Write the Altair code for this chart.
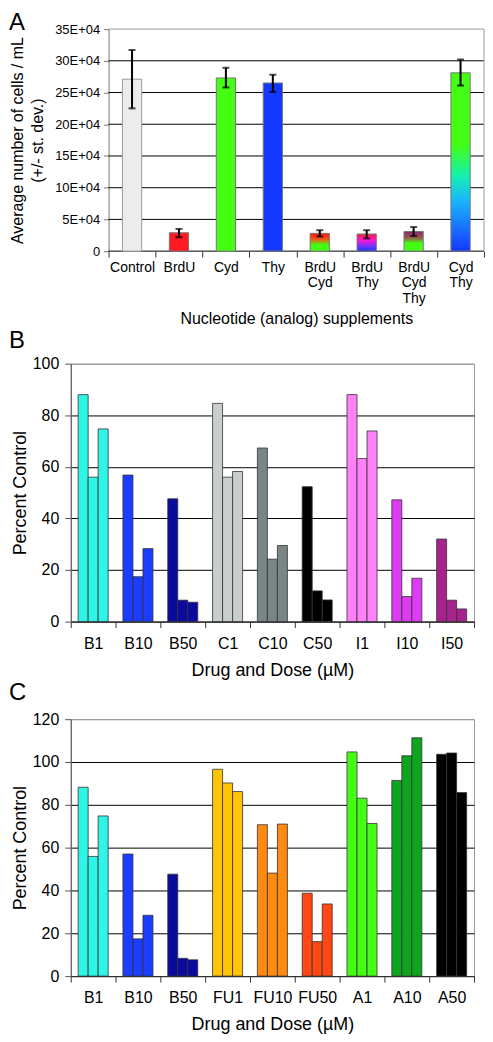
import altair as alt
import pandas as pd

FONT = "Liberation Sans"

# ---------------- Panel A data (cell counts in units of 1E+04 cells/mL) ----------------
a_categories = ["Control", "BrdU", "Cyd", "Thy", "BrdU\nCyd", "BrdU\nThy", "BrdU\nCyd\nThy", "Cyd\nThy"]
a_mean_e4 = [27.1, 2.9, 27.3, 26.5, 2.8, 2.7, 3.1, 28.1]
a_low_e4 = [22.5, 2.2, 25.8, 25.1, 2.3, 2.0, 2.4, 26.1]
a_high_e4 = [31.7, 3.5, 28.9, 27.8, 3.3, 3.3, 3.8, 30.2]
a_ticks = [0, 5, 10, 15, 20, 25, 30, 35]

# ---------------- Panel B data (percent of control, three replicates) ----------------
b_groups = ["B1", "B10", "B50", "C1", "C10", "C50", "I1", "I10", "I50"]
b_rep1 = [88.0, 56.8, 47.6, 84.6, 67.3, 52.3, 88.0, 47.2, 32.0]
b_rep2 = [56.0, 17.4, 8.3, 56.0, 24.2, 11.9, 63.2, 9.7, 8.3]
b_rep3 = [74.7, 28.3, 7.5, 58.2, 29.5, 8.4, 73.9, 16.8, 4.9]
b_ticks = [0, 20, 40, 60, 80, 100]

# ---------------- Panel C data ----------------
c_groups = ["B1", "B10", "B50", "FU1", "FU10", "FU50", "A1", "A10", "A50"]
c_rep1 = [88.2, 57.0, 47.6, 96.6, 70.7, 38.7, 104.7, 91.4, 103.6]
c_rep2 = [55.9, 17.4, 8.3, 90.2, 48.1, 16.1, 83.1, 102.9, 104.2]
c_rep3 = [74.8, 28.4, 7.6, 86.2, 71.0, 33.7, 71.3, 111.3, 85.7]
c_ticks = [0, 20, 40, 60, 80, 100, 120]

replicates = ["r1", "r2", "r3"]

# ---------------- layout constants ----------------
A_W, A_H = 415, 223          # panel A group (shares left origin with B/C)
A_X0 = 38                    # panel A plot area starts this far right of the shared origin
B_W, B_H = 405, 259
C_W, C_H = 405, 258
LETTER_X = -62

# ---------------- styles ----------------
def grad(stops):
    return alt.Gradient(
        gradient="linear", x1=0, y1=0, x2=0, y2=1,
        stops=[alt.GradientStop(offset=o, color=c) for o, c in stops],
    )

a_fills = [
    "#ececec",
    "#ff1a24",
    "#44ff14",
    "#1438ff",
    grad([(0, "#ff1a1a"), (0.3, "#ff4a14"), (0.65, "#44ff14"), (1, "#44ff14")]),
    grad([(0, "#ff1a3a"), (0.35, "#ff14d0"), (0.7, "#7a30ff"), (1, "#1438ff")]),
    grad([(0, "#8a2a70"), (0.3, "#9a5050"), (0.6, "#44ff14"), (1, "#44ff14")]),
    grad([(0, "#44ff14"), (0.4, "#44ff14"), (0.58, "#14f0b0"), (0.72, "#1ab4ff"), (1, "#1438ff")]),
]
a_strokes = ["#9a9a9a", "#777777", "#777777", "#777777", "#777777", "#777777", "#777777", "#777777"]

b_colors = ["#2ef5e6", "#1a3dff", "#0a0a9c", "#c8cdcd", "#7a8585", "#000000", "#ff80f7", "#dd3cf2", "#a8228e"]
c_colors = ["#2ef5e6", "#1a3dff", "#0a0a9c", "#ffc408", "#ff8a10", "#ff4814", "#44ff14", "#0ea51e", "#000000"]


def grid_color(top):
    return {"condition": {"test": f"datum.value == {top}", "value": "#999999"}, "value": "#000000"}


def letter(txt, x, y):
    return alt.Chart(pd.DataFrame({"t": [txt]})).mark_text(
        align="left", baseline="alphabetic", fontSize=24, font=FONT, color="#000"
    ).encode(text="t:N", x=alt.value(x), y=alt.value(y))


# ---------------- Panel A ----------------
dfA = pd.DataFrame({
    "idx": list(range(len(a_categories))),
    "cat": a_categories,
    "mean": a_mean_e4,
    "lo": a_low_e4,
    "hi": a_high_e4,
})
dfGridA = pd.DataFrame({"v": a_ticks})

axis_xa = alt.Axis(
    title="Nucleotide (analog) supplements", labelAngle=0, tickBand="extent",
    labelExpr="split(datum.label, '\\n')", labelLineHeight=16, labelFontSize=14,
    labelPadding=3, tickSize=6, titleFontSize=16, titlePadding=5,
    domain=False, tickColor="#333", grid=False,
)
axis_ya = alt.Axis(
    title=["Average number of cells / mL", "(+/- st. dev.)"], values=a_ticks,
    labelExpr="datum.value == 0 ? '0' : datum.value + 'E+04'",
    labelFontSize=13, labelPadding=4, tickSize=5, titleFontSize=16, titleLineHeight=20,
    titlePadding=9, grid=False, offset=-A_X0,
    domainColor="#777", tickColor="#777",
)
x_a = alt.X("cat:N", scale=alt.Scale(domain=a_categories, range=[A_X0, A_W], paddingInner=0, paddingOuter=0), axis=axis_xa)
y_scale_a = alt.Scale(domain=[0, 35], nice=False)

grid_a = alt.Chart(dfGridA).mark_rule(strokeWidth=1).encode(
    x=alt.value(A_X0), x2=alt.value(A_W),
    y=alt.Y("v:Q", scale=y_scale_a, axis=axis_ya),
    color=alt.condition(alt.datum.v == 35, alt.value("#999999"), alt.value("#000000")),
)
right_a = alt.Chart(pd.DataFrame({"v": [0]})).mark_rule(color="#999999", strokeWidth=1).encode(
    x=alt.value(A_W), y=alt.value(0), y2=alt.value(A_H)
)

a_layers = []
for i, (f, s) in enumerate(zip(a_fills, a_strokes)):
    a_layers.append(
        alt.Chart(dfA).transform_filter(alt.datum.idx == i)
        .mark_bar(width=alt.RelativeBandSize(0.41), fill=f, stroke=s, strokeWidth=1)
        .encode(x=x_a, y=alt.Y("mean:Q", scale=y_scale_a, axis=axis_ya))
    )
err_rule = alt.Chart(dfA).mark_rule(color="#000", strokeWidth=2).encode(
    x=x_a, y=alt.Y("lo:Q", scale=y_scale_a, axis=axis_ya), y2="hi:Q"
)
cap_lo = alt.Chart(dfA).mark_tick(color="#000", size=7, thickness=2).encode(
    x=x_a, y=alt.Y("lo:Q", scale=y_scale_a, axis=axis_ya)
)
cap_hi = alt.Chart(dfA).mark_tick(color="#000", size=7, thickness=2).encode(
    x=x_a, y=alt.Y("hi:Q", scale=y_scale_a, axis=axis_ya)
)
chartA = alt.layer(
    grid_a, right_a, *a_layers, err_rule, cap_lo, cap_hi, letter("A", LETTER_X, 1)
).properties(width=A_W, height=A_H, view=alt.ViewBackground(stroke="transparent"))


# ---------------- Panels B and C ----------------
def drug_panel(groups, reps, colors, ticks, top, name, w, h, letter_y):
    rows = []
    for gi, g in enumerate(groups):
        for ri, r in enumerate(replicates):
            rows.append({"group": g, "rep": r, "value": reps[ri][gi]})
    df = pd.DataFrame(rows)
    bars = alt.Chart(df).mark_bar(stroke="#333", strokeWidth=0.8).encode(
        x=alt.X(
            "group:N",
            scale=alt.Scale(domain=groups, paddingInner=0, paddingOuter=0),
            axis=alt.Axis(
                title="Drug and Dose (µM)", labelAngle=0, tickBand="extent", tickSize=6,
                labelPadding=8, labelFontSize=16, titleFontSize=18, titlePadding=10,
                domainColor="#333", tickColor="#333", grid=False,
            ),
        ),
        xOffset=alt.XOffset("rep:N", scale=alt.Scale(domain=replicates, paddingInner=0, paddingOuter=0.74)),
        y=alt.Y(
            "value:Q",
            scale=alt.Scale(domain=[0, top], nice=False),
            axis=alt.Axis(
                title="Percent Control", values=ticks, tickSize=6, labelPadding=6,
                labelFontSize=16, titleFontSize=18, titlePadding=3, grid=True,
                gridColor=grid_color(top), domainColor="#555", tickColor="#555",
            ),
        ),
        color=alt.Color("group:N", scale=alt.Scale(domain=groups, range=colors), legend=None),
    )
    return alt.layer(bars, letter(name, LETTER_X, letter_y)).properties(width=w, height=h)


chartB = drug_panel(b_groups, [b_rep1, b_rep2, b_rep3], b_colors, b_ticks, 100, "B", B_W, B_H, -16)
chartC = drug_panel(c_groups, [c_rep1, c_rep2, c_rep3], c_colors, c_ticks, 120, "C", C_W, C_H, -19.5)

chart = (
    alt.vconcat(chartA, chartB, chartC, spacing=0)
    .resolve_scale(color="independent")
    .properties(padding=0)
    .configure_view(stroke="#999999", strokeWidth=1)
    .configure_axis(
        labelFont=FONT, titleFont=FONT, labelColor="#000", titleColor="#000",
        titleFontWeight="normal",
    )
)

chart.save("out.html", embed_options={"renderer": "svg", "actions": False})
